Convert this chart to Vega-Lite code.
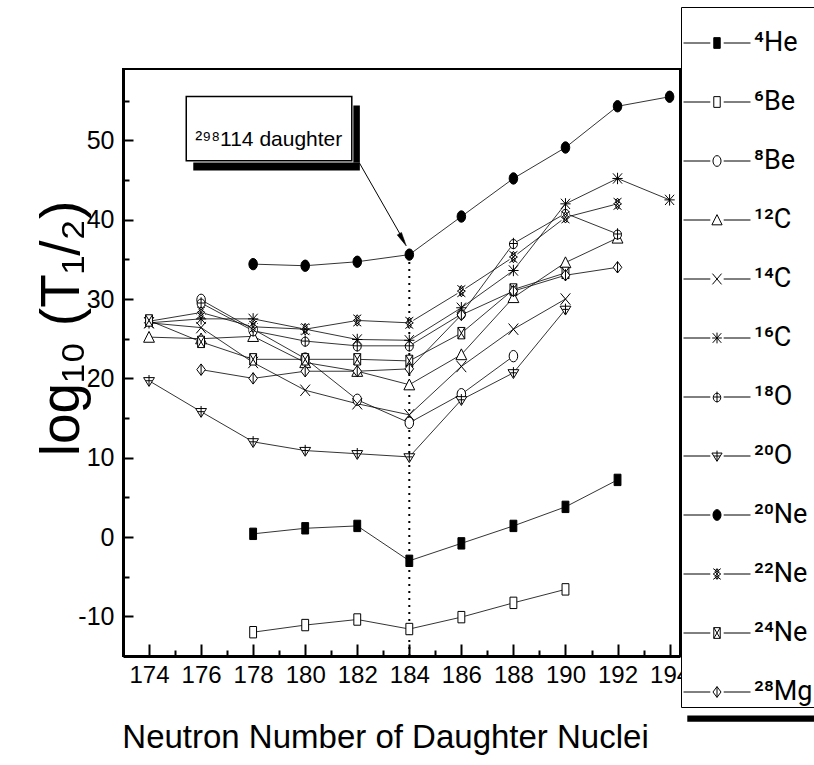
{
  "$schema": "https://vega.github.io/schema/vega-lite/v6.json",
  "width": 557,
  "height": 587,
  "autosize": {"type": "none"},
  "padding": {"left": 123, "top": 69, "right": 134, "bottom": 109},
  "background": "white",
  "config": {
    "view": {"stroke": "black", "strokeWidth": 2},
    "font": "Liberation Sans",
    "axis": {"labelFont": "Liberation Sans", "titleFont": "Liberation Sans", "labelColor": "black", "titleColor": "black", "domainColor": "black", "tickColor": "black", "grid": false}
  },
  "datasets": {
    "main": [
      {"s": "⁴He", "n": 178, "v": 0.4}, {"s": "⁴He", "n": 180, "v": 1.1}, {"s": "⁴He", "n": 182, "v": 1.4}, {"s": "⁴He", "n": 184, "v": -3.0}, {"s": "⁴He", "n": 186, "v": -0.8}, {"s": "⁴He", "n": 188, "v": 1.4}, {"s": "⁴He", "n": 190, "v": 3.8}, {"s": "⁴He", "n": 192, "v": 7.2},
      {"s": "⁶Be", "n": 178, "v": -12.0}, {"s": "⁶Be", "n": 180, "v": -11.1}, {"s": "⁶Be", "n": 182, "v": -10.4}, {"s": "⁶Be", "n": 184, "v": -11.6}, {"s": "⁶Be", "n": 186, "v": -10.1}, {"s": "⁶Be", "n": 188, "v": -8.3}, {"s": "⁶Be", "n": 190, "v": -6.6},
      {"s": "⁸Be", "n": 176, "v": 29.9}, {"s": "⁸Be", "n": 178, "v": 26.2}, {"s": "⁸Be", "n": 180, "v": 22.5}, {"s": "⁸Be", "n": 182, "v": 17.3}, {"s": "⁸Be", "n": 184, "v": 14.4}, {"s": "⁸Be", "n": 186, "v": 18.0}, {"s": "⁸Be", "n": 188, "v": 22.8},
      {"s": "¹²C", "n": 174, "v": 25.2}, {"s": "¹²C", "n": 176, "v": 25.0}, {"s": "¹²C", "n": 178, "v": 25.3}, {"s": "¹²C", "n": 180, "v": 22.0}, {"s": "¹²C", "n": 182, "v": 20.9}, {"s": "¹²C", "n": 184, "v": 19.2}, {"s": "¹²C", "n": 186, "v": 23.0}, {"s": "¹²C", "n": 188, "v": 30.2}, {"s": "¹²C", "n": 190, "v": 34.6}, {"s": "¹²C", "n": 192, "v": 37.7},
      {"s": "¹⁴C", "n": 174, "v": 27.0}, {"s": "¹⁴C", "n": 176, "v": 26.4}, {"s": "¹⁴C", "n": 178, "v": 22.0}, {"s": "¹⁴C", "n": 180, "v": 18.5}, {"s": "¹⁴C", "n": 182, "v": 16.8}, {"s": "¹⁴C", "n": 184, "v": 15.4}, {"s": "¹⁴C", "n": 186, "v": 21.5}, {"s": "¹⁴C", "n": 188, "v": 26.2}, {"s": "¹⁴C", "n": 190, "v": 30.0},
      {"s": "¹⁶C", "n": 174, "v": 27.0}, {"s": "¹⁶C", "n": 176, "v": 27.5}, {"s": "¹⁶C", "n": 178, "v": 27.5}, {"s": "¹⁶C", "n": 180, "v": 26.2}, {"s": "¹⁶C", "n": 182, "v": 24.9}, {"s": "¹⁶C", "n": 184, "v": 24.8}, {"s": "¹⁶C", "n": 186, "v": 28.9}, {"s": "¹⁶C", "n": 188, "v": 33.6}, {"s": "¹⁶C", "n": 190, "v": 42.0}, {"s": "¹⁶C", "n": 192, "v": 45.2}, {"s": "¹⁶C", "n": 194, "v": 42.5},
      {"s": "¹⁸O", "n": 176, "v": 29.5}, {"s": "¹⁸O", "n": 178, "v": 26.0}, {"s": "¹⁸O", "n": 180, "v": 24.7}, {"s": "¹⁸O", "n": 182, "v": 24.1}, {"s": "¹⁸O", "n": 184, "v": 24.1}, {"s": "¹⁸O", "n": 186, "v": 28.1}, {"s": "¹⁸O", "n": 188, "v": 37.0}, {"s": "¹⁸O", "n": 190, "v": 40.8}, {"s": "¹⁸O", "n": 192, "v": 38.2},
      {"s": "²⁰O", "n": 174, "v": 19.7}, {"s": "²⁰O", "n": 176, "v": 15.8}, {"s": "²⁰O", "n": 178, "v": 12.0}, {"s": "²⁰O", "n": 180, "v": 10.9}, {"s": "²⁰O", "n": 182, "v": 10.5}, {"s": "²⁰O", "n": 184, "v": 10.1}, {"s": "²⁰O", "n": 186, "v": 17.3}, {"s": "²⁰O", "n": 188, "v": 20.7}, {"s": "²⁰O", "n": 190, "v": 28.7},
      {"s": "²⁰Ne", "n": 178, "v": 34.4}, {"s": "²⁰Ne", "n": 180, "v": 34.2}, {"s": "²⁰Ne", "n": 182, "v": 34.7}, {"s": "²⁰Ne", "n": 184, "v": 35.6}, {"s": "²⁰Ne", "n": 186, "v": 40.4}, {"s": "²⁰Ne", "n": 188, "v": 45.2}, {"s": "²⁰Ne", "n": 190, "v": 49.1}, {"s": "²⁰Ne", "n": 192, "v": 54.3}, {"s": "²⁰Ne", "n": 194, "v": 55.5},
      {"s": "²²Ne", "n": 174, "v": 27.2}, {"s": "²²Ne", "n": 176, "v": 28.3}, {"s": "²²Ne", "n": 178, "v": 26.5}, {"s": "²²Ne", "n": 180, "v": 26.2}, {"s": "²²Ne", "n": 182, "v": 27.3}, {"s": "²²Ne", "n": 184, "v": 27.0}, {"s": "²²Ne", "n": 186, "v": 31.0}, {"s": "²²Ne", "n": 188, "v": 35.3}, {"s": "²²Ne", "n": 190, "v": 40.3}, {"s": "²²Ne", "n": 192, "v": 42.0},
      {"s": "²⁴Ne", "n": 174, "v": 27.3}, {"s": "²⁴Ne", "n": 176, "v": 24.6}, {"s": "²⁴Ne", "n": 178, "v": 22.4}, {"s": "²⁴Ne", "n": 180, "v": 22.4}, {"s": "²⁴Ne", "n": 182, "v": 22.4}, {"s": "²⁴Ne", "n": 184, "v": 22.2}, {"s": "²⁴Ne", "n": 186, "v": 25.7}, {"s": "²⁴Ne", "n": 188, "v": 31.2}, {"s": "²⁴Ne", "n": 190, "v": 33.3},
      {"s": "²⁸Mg", "n": 176, "v": 21.1}, {"s": "²⁸Mg", "n": 178, "v": 20.0}, {"s": "²⁸Mg", "n": 180, "v": 20.9}, {"s": "²⁸Mg", "n": 182, "v": 20.9}, {"s": "²⁸Mg", "n": 184, "v": 21.2}, {"s": "²⁸Mg", "n": 186, "v": 28.0}, {"s": "²⁸Mg", "n": 188, "v": 31.0}, {"s": "²⁸Mg", "n": 190, "v": 33.0}, {"s": "²⁸Mg", "n": 192, "v": 34.0}
    ]
  },
  "layer": [
    {
      "data": {"name": "main"},
      "mark": {"type": "line", "stroke": "black", "strokeWidth": 0.8},
      "encoding": {
        "x": {"field": "n", "type": "quantitative", "scale": {"domain": [173, 194.4], "nice": false, "zero": false},
          "axis": {"orient": "bottom", "values": [174, 176, 178, 180, 182, 184, 186, 188, 190, 192, 194], "format": "d", "tickSize": -12, "tickWidth": 2, "domainWidth": 3, "labelFontSize": 24, "labelPadding": 19, "labelFlush": false, "labelOverlap": false,
            "title": "Neutron Number of Daughter Nuclei", "titleFontSize": 33, "titleFontWeight": "normal", "titleX": 262, "titleY": 91, "titleBaseline": "alphabetic", "titleAnchor": "middle"}},
        "y": {"field": "v", "type": "quantitative", "scale": {"domain": [-15, 59], "nice": false, "zero": false},
          "axis": {"orient": "left", "values": [-10, 0, 10, 20, 30, 40, 50], "labelExpr": "datum.value < 0 ? '-' + abs(datum.value) : '' + datum.value", "tickSize": -10, "tickWidth": 2, "domainWidth": 3, "labelFontSize": 25, "labelPadding": 19, "labelBaseline": "middle",
            "title": "log₁₀ (T₁/₂)", "titleFont": "Liberation Sans", "titleFontSize": 55, "titleFontWeight": "normal", "titleAngle": -90, "titleX": -45, "titleY": 259, "titleAlign": "center", "titleBaseline": "alphabetic"}},
        "detail": {"field": "s"}
      }
    },
    {
      "data": {"values": [{"n": 184, "v0": -15, "v1": 35.6}]},
      "mark": {"type": "rule", "stroke": "black", "strokeWidth": 2, "strokeDash": [2, 5]},
      "encoding": {
        "x": {"field": "n", "type": "quantitative", "axis": null},
        "y": {"field": "v0", "type": "quantitative", "axis": null},
        "y2": {"field": "v1"}
      }
    },
    {
      "data": {"name": "main"},
      "mark": {"type": "point", "filled": true, "stroke": "black", "strokeWidth": 1, "size": 130, "opacity": 1},
      "encoding": {
        "x": {"field": "n", "type": "quantitative",
          "axis": {"orient": "bottom", "values": [175, 177, 179, 181, 183, 185, 187, 189, 191, 193], "tickSize": -6, "tickWidth": 2, "labels": false, "domain": false, "title": null}},
        "y": {"field": "v", "type": "quantitative",
          "axis": {"orient": "left", "values": [-5, 5, 15, 25, 35, 45, 55], "tickSize": -6, "tickWidth": 2, "labels": false, "domain": false, "title": null}},
        "shape": {"field": "s", "type": "nominal", "legend": null,
          "scale": {"domain": ["⁴He", "⁶Be", "⁸Be", "¹²C", "¹⁴C", "¹⁶C", "¹⁸O", "²⁰O", "²⁰Ne", "²²Ne", "²⁴Ne", "²⁸Mg"],
            "range": [
              "M-0.6,-1L0.6,-1L0.6,1L-0.6,1Z",
              "M-0.6,-1L0.6,-1L0.6,1L-0.6,1Z",
              "M-0.75,0A0.75,1 0 1,0 0.75,0A0.75,1 0 1,0 -0.75,0Z",
              "M0,-1L0.95,0.9L-0.95,0.9Z",
              "M-0.85,-1L0.85,1M-0.85,1L0.85,-1",
              "M-0.8,-0.9L0.8,0.9M-0.8,0.9L0.8,-0.9M0,-1L0,1M-0.9,0L0.9,0",
              "M-0.7,0.1A0.7,0.8 0 1,0 0.7,0.1A0.7,0.8 0 1,0 -0.7,0.1ZM0,-1L0,1M-0.7,0L0.7,0",
              "M-0.95,-0.55L0.95,-0.55L0,1ZM0,-1L0,0.8M-0.55,0L0.55,0",
              "M-0.75,0A0.75,1 0 1,0 0.75,0A0.75,1 0 1,0 -0.75,0Z",
              "M-0.7,-1L0.7,0L-0.7,1M0.7,-1L-0.7,0L0.7,1M0,-1L0.35,-0.5L0,0L-0.35,-0.5ZM0,0L0.35,0.5L0,1L-0.35,0.5Z",
              "M-0.6,-1L0.6,-1L0.6,1L-0.6,1ZM-0.6,-1L0.6,1M0.6,-1L-0.6,1",
              "M0,-1L0.75,0L0,1L-0.75,0ZM0,-1L0,1"
            ]}},
        "fill": {"field": "s", "type": "nominal", "legend": null,
          "scale": {"domain": ["⁴He", "⁶Be", "⁸Be", "¹²C", "¹⁴C", "¹⁶C", "¹⁸O", "²⁰O", "²⁰Ne", "²²Ne", "²⁴Ne", "²⁸Mg"],
            "range": ["black", "white", "white", "white", "white", "white", "white", "white", "black", "white", "white", "white"]}}
      }
    },
    {
      "data": {"name": "main"},
      "mark": {"type": "point", "filled": true, "stroke": "black", "strokeWidth": 1, "size": 130, "opacity": 0},
      "encoding": {
        "x": {"field": "n", "type": "quantitative", "axis": null},
        "y": {"field": "v", "type": "quantitative", "axis": null},
        "shape": {"field": "s", "type": "nominal",
          "legend": {"orient": "none", "legendX": 558, "legendY": -62, "title": null, "padding": 2, "rowPadding": 12, "strokeColor": "black", "fillColor": "white", "symbolSize": 4489, "symbolStrokeColor": "black", "symbolStrokeWidth": 1, "symbolOpacity": 1, "labelFont": "Roboto", "labelFontSize": 27, "labelColor": "black", "labelOffset": 3, "labelLimit": 200,
            "encode": {"symbols": {"update": {"stroke": {"value": "black"}, "strokeWidth": {"value": 1}, "opacity": {"value": 1}, "strokeOpacity": {"value": 1}}}}},
          "scale": {"domain": ["⁴He", "⁶Be", "⁸Be", "¹²C", "¹⁴C", "¹⁶C", "¹⁸O", "²⁰O", "²⁰Ne", "²²Ne", "²⁴Ne", "²⁸Mg"],
            "range": [
              "M-1,0L-0.2,0M0.2,0L1,0M-0.096,-0.16L0.096,-0.16L0.096,0.16L-0.096,0.16Z",
              "M-1,0L-0.2,0M0.2,0L1,0M-0.096,-0.16L0.096,-0.16L0.096,0.16L-0.096,0.16Z",
              "M-1,0L-0.2,0M0.2,0L1,0M-0.12,0A0.12,0.16 0 1,0 0.12,0A0.12,0.16 0 1,0 -0.12,0Z",
              "M-1,0L-0.2,0M0.2,0L1,0M0,-0.16L0.152,0.144L-0.152,0.144Z",
              "M-1,0L-0.2,0M0.2,0L1,0M-0.136,-0.16L0.136,0.16M-0.136,0.16L0.136,-0.16",
              "M-1,0L-0.2,0M0.2,0L1,0M-0.128,-0.144L0.128,0.144M-0.128,0.144L0.128,-0.144M0,-0.16L0,0.16M-0.144,0L0.144,0",
              "M-1,0L-0.2,0M0.2,0L1,0M-0.112,0.016A0.112,0.128 0 1,0 0.112,0.016A0.112,0.128 0 1,0 -0.112,0.016ZM0,-0.16L0,0.16M-0.112,0L0.112,0",
              "M-1,0L-0.2,0M0.2,0L1,0M-0.152,-0.088L0.152,-0.088L0,0.16ZM0,-0.16L0,0.128M-0.088,0L0.088,0",
              "M-1,0L-0.2,0M0.2,0L1,0M-0.12,0A0.12,0.16 0 1,0 0.12,0A0.12,0.16 0 1,0 -0.12,0Z",
              "M-1,0L-0.2,0M0.2,0L1,0M-0.112,-0.16L0.112,0L-0.112,0.16M0.112,-0.16L-0.112,0L0.112,0.16M0,-0.16L0.056,-0.08L0,0L-0.056,-0.08ZM0,0L0.056,0.08L0,0.16L-0.056,0.08Z",
              "M-1,0L-0.2,0M0.2,0L1,0M-0.096,-0.16L0.096,-0.16L0.096,0.16L-0.096,0.16ZM-0.096,-0.16L0.096,0.16M0.096,-0.16L-0.096,0.16",
              "M-1,0L-0.2,0M0.2,0L1,0M0,-0.16L0.12,0L0,0.16L-0.12,0ZM0,-0.16L0,0.16"
            ]}},
        "fill": {"field": "s", "type": "nominal",
          "legend": {"orient": "none", "legendX": 558, "legendY": -62, "title": null, "padding": 2, "rowPadding": 12, "strokeColor": "black", "fillColor": "white", "symbolSize": 4489, "symbolStrokeColor": "black", "symbolStrokeWidth": 1, "symbolOpacity": 1, "labelFont": "Roboto", "labelFontSize": 27, "labelColor": "black", "labelOffset": 3, "labelLimit": 200,
            "encode": {"symbols": {"update": {"stroke": {"value": "black"}, "strokeWidth": {"value": 1}, "opacity": {"value": 1}, "strokeOpacity": {"value": 1}}}}},
          "scale": {"domain": ["⁴He", "⁶Be", "⁸Be", "¹²C", "¹⁴C", "¹⁶C", "¹⁸O", "²⁰O", "²⁰Ne", "²²Ne", "²⁴Ne", "²⁸Mg"],
            "range": ["black", "white", "white", "white", "white", "white", "white", "white", "black", "white", "white", "white"]}}
      }
    },
    {
      "data": {"values": [
        {"x1": 181.85, "x2": 182.1, "y1": 54.4, "y2": 47.2},
        {"x1": 175.7, "x2": 182.1, "y1": 47.2, "y2": 46.2}
      ]},
      "mark": {"type": "rect", "fill": "black"},
      "encoding": {
        "x": {"field": "x1", "type": "quantitative", "axis": null},
        "x2": {"field": "x2"},
        "y": {"field": "y1", "type": "quantitative", "axis": null},
        "y2": {"field": "y2"}
      }
    },
    {
      "data": {"values": [{"x1": 175.43, "x2": 181.79, "y1": 55.54, "y2": 47.43}]},
      "mark": {"type": "rect", "fill": "white", "stroke": "black", "strokeWidth": 1.5},
      "encoding": {
        "x": {"field": "x1", "type": "quantitative", "axis": null},
        "x2": {"field": "x2"},
        "y": {"field": "y1", "type": "quantitative", "axis": null},
        "y2": {"field": "y2"}
      }
    },
    {
      "data": {"values": [{"x": 178.6, "y": 49.3, "t": "²⁹⁸114 daughter"}]},
      "mark": {"type": "text", "font": "Liberation Sans", "fontSize": 21, "align": "center", "baseline": "alphabetic", "color": "black"},
      "encoding": {
        "x": {"field": "x", "type": "quantitative", "axis": null},
        "y": {"field": "y", "type": "quantitative", "axis": null},
        "text": {"field": "t"}
      }
    },
    {
      "data": {"values": [{"x1": 182.08, "y1": 47.17, "x2": 183.8, "y2": 37.3}]},
      "mark": {"type": "rule", "stroke": "black", "strokeWidth": 1},
      "encoding": {
        "x": {"field": "x1", "type": "quantitative", "axis": null},
        "y": {"field": "y1", "type": "quantitative", "axis": null},
        "x2": {"field": "x2"},
        "y2": {"field": "y2"}
      }
    },
    {
      "data": {"values": [{"x": 183.75, "y": 37.47}]},
      "mark": {"type": "point", "shape": "M0,1L-0.35,-1L0.35,-1Z", "filled": true, "fill": "black", "stroke": "black", "strokeWidth": 0.5, "size": 196, "angle": 330.5, "opacity": 1},
      "encoding": {
        "x": {"field": "x", "type": "quantitative", "axis": null},
        "y": {"field": "y", "type": "quantitative", "axis": null}
      }
    },
    {
      "data": {"values": [{"x1": 194.68, "x2": 199.6, "y1": -22.5, "y2": -23.3}]},
      "mark": {"type": "rect", "fill": "black"},
      "encoding": {
        "x": {"field": "x1", "type": "quantitative", "axis": null},
        "x2": {"field": "x2"},
        "y": {"field": "y1", "type": "quantitative", "axis": null},
        "y2": {"field": "y2"}
      }
    }
  ],
  "resolve": {
    "scale": {"shape": "independent", "fill": "independent"},
    "axis": {"x": "independent", "y": "independent"}
  }
}
